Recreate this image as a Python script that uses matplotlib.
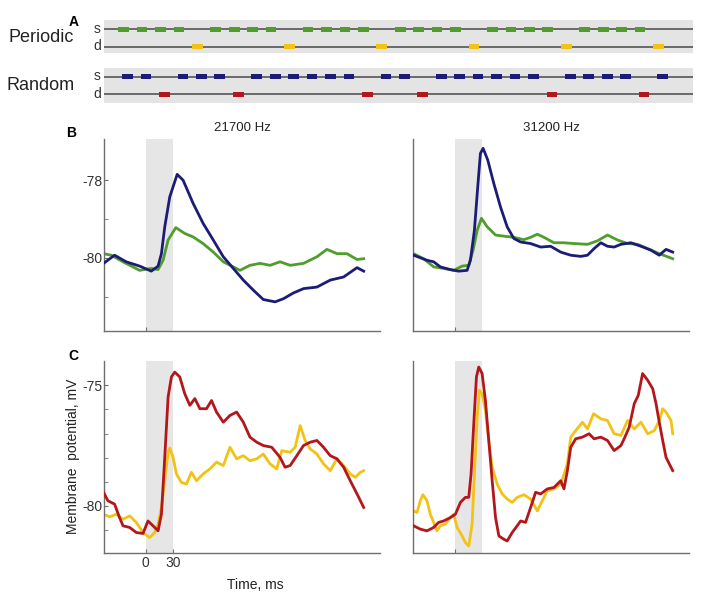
import numpy as np
import matplotlib
matplotlib.use("Agg")
import matplotlib.pyplot as plt

plt.rcParams['font.family'] = ['Liberation Sans', 'DejaVu Sans']

# ---- panel A: stimulus slots (s = standard, d = deviant) ----
periodic_s = [0, 1, 2, 3, 5, 6, 7, 8, 10, 11, 12, 13, 15, 16, 17, 18, 20, 21, 22, 23, 25, 26, 27, 28]
periodic_d = [4, 9, 14, 19, 24, 29]
random_s = [0, 1, 3, 4, 5, 7, 8, 9, 10, 11, 12, 14, 15, 17, 18, 19, 20, 21, 22, 24, 25, 26, 27, 29]
random_d = [2, 6, 13, 16, 23, 28]

# ---- panel B, 21700 Hz ----
t_b1_blue = [-45.5, -33.6, -21, -6.5, 6.1, 13.4, 17, 20.6, 26, 34, 40.4, 51.3, 62, 73, 83.8, 94.6,
             105.4, 116.3, 127, 139.7, 148.7, 159.6, 170.4, 184.9, 199.3, 213.7, 228.2, 235.4]
v_b1_blue = [-80.14, -79.93, -80.10, -80.21, -80.34, -80.21, -79.89, -79.20, -78.43, -77.85, -78.00,
             -78.60, -79.11, -79.54, -79.97, -80.27, -80.57, -80.83, -81.07, -81.13, -81.05, -80.90,
             -80.79, -80.75, -80.57, -80.49, -80.25, -80.34]
t_b1_green = [-45.5, -37.2, -24.5, -6.5, 6.1, 13.4, 18.8, 24.2, 32.5, 42.2, 51.3, 62, 73, 83.8, 94.6,
              101.8, 112.6, 123.5, 134.3, 145.1, 156, 170.4, 184.9, 195.7, 206.5, 217.3, 228.2, 235.4]
v_b1_green = [-79.89, -79.93, -80.10, -80.32, -80.27, -80.30, -80.06, -79.54, -79.22, -79.37, -79.46,
              -79.63, -79.85, -80.10, -80.23, -80.32, -80.19, -80.14, -80.19, -80.10, -80.19, -80.14,
              -79.97, -79.78, -79.89, -79.89, -80.04, -80.02]

# ---- panel B, 31200 Hz ----
t_b2_blue = [-44.4, -29.9, -22.7, -15.5, -4.7, 4.3, 13.4, 17, 21.3, 24.9, 27.8, 30.7, 35.7, 42.2, 49.5,
             56.7, 63.9, 71.2, 82, 92.8, 103.6, 114.5, 125.3, 136.1, 143.4, 150.5, 157.8, 165, 172.2,
             179.5, 190.3, 201.1, 211.9, 220.9, 228.2, 235.4]
v_b2_blue = [-79.93, -80.06, -80.10, -80.23, -80.30, -80.34, -80.32, -80.06, -79.29, -78.17, -77.31,
             -77.18, -77.48, -78.08, -78.69, -79.20, -79.50, -79.59, -79.63, -79.72, -79.70, -79.85,
             -79.93, -79.96, -79.93, -79.76, -79.61, -79.70, -79.72, -79.65, -79.61, -79.70, -79.80,
             -79.93, -79.78, -79.85]
t_b2_green = [-44.4, -33.6, -22.7, -11.9, -1.1, 8, 15.2, 19.9, 24.3, 28.9, 35.1, 44.1, 53.1, 63.9, 74.7,
              82, 89.2, 96.4, 107.2, 118, 128.9, 143.4, 154.2, 165, 175.9, 186.7, 197.5, 208.4, 220.9, 235.4]
v_b2_green = [-79.89, -80.02, -80.23, -80.27, -80.32, -80.21, -80.19, -79.80, -79.29, -78.98, -79.20,
              -79.41, -79.44, -79.47, -79.53, -79.47, -79.39, -79.47, -79.61, -79.61, -79.63, -79.65,
              -79.56, -79.41, -79.54, -79.63, -79.65, -79.76, -79.89, -80.02]

# ---- panel C, 21700 Hz ----
t_c1_red = [-45.5, -40.8, -33.6, -28.2, -24.5, -17.3, -10.1, -2.9, 2.5, 7.9, 13.4, 17, 20.6, 24.2, 27.8,
            31.4, 36.8, 42.2, 47.7, 53.1, 58.5, 65.7, 71.1, 76.5, 83.8, 91, 98.2, 105.4, 112.6, 119.9,
            127, 136.1, 145.1, 150.5, 156, 163.2, 170.4, 177.6, 184.9, 192, 199.3, 206.5, 213.7, 220.9,
            228.2, 235.4]
v_c1_red = [-79.44, -79.79, -79.93, -80.49, -80.83, -80.90, -81.11, -81.15, -80.63, -80.83, -81.04,
            -80.35, -77.99, -75.49, -74.65, -74.45, -74.65, -75.35, -75.83, -75.55, -75.97, -75.97,
            -75.63, -76.11, -76.53, -76.25, -76.11, -76.53, -77.15, -77.36, -77.50, -77.57, -77.99,
            -78.40, -78.33, -77.92, -77.50, -77.36, -77.29, -77.57, -77.92, -78.05, -78.40, -78.96,
            -79.51, -80.07]
t_c1_yellow = [-45.5, -39, -31.8, -24.5, -17.3, -10.1, -2.9, 4.3, 9.7, 13.4, 17, 20.6, 24.2, 26, 29.6,
               33.2, 38.6, 44, 49.4, 54.9, 62, 69.3, 76.5, 83.8, 91, 98.2, 105.4, 112.6, 119.9, 127,
               134.3, 141.5, 146.9, 156, 161.4, 166.8, 172.2, 177.6, 184.9, 192, 199.3, 206.5, 213.7,
               220.9, 226.3, 231.8, 235.4]
v_c1_yellow = [-80.35, -80.46, -80.35, -80.56, -80.42, -80.69, -81.11, -81.32, -81.11, -80.76, -80.07,
               -78.96, -77.78, -77.60, -77.99, -78.68, -79.03, -79.10, -78.61, -78.96, -78.68, -78.47,
               -78.19, -78.33, -77.57, -78.05, -77.92, -78.13, -78.05, -77.85, -78.26, -78.47, -77.71,
               -77.78, -77.57, -76.67, -77.29, -77.64, -77.85, -78.26, -78.54, -78.05, -78.33, -78.68,
               -78.82, -78.61, -78.54]

# ---- panel C, 31200 Hz ----
t_c2_red = [-44.4, -37.1, -29.9, -22.7, -17.3, -11.9, -4.7, 0.8, 6.2, 11.6, 15.2, 17.7, 20.6, 23.5, 26,
            29.6, 33.2, 36.8, 40.5, 44.1, 47.7, 53.1, 56.7, 62.1, 67.5, 71.2, 76.5, 82, 87.4, 92.8, 100,
            107.2, 114.5, 118, 121.7, 125.3, 130.7, 137.9, 145.1, 150.5, 157.8, 165, 172.2, 179.5, 183,
            188.4, 193.9, 198.2, 202.9, 208.4, 213.8, 217.4, 220.9, 224.6, 228.2, 235.4]
v_c2_red = [-80.83, -80.97, -81.04, -80.90, -80.69, -80.63, -80.49, -80.35, -79.86, -79.65, -79.65,
            -78.68, -76.60, -74.65, -74.24, -74.51, -75.63, -77.29, -78.96, -80.49, -81.25, -81.39,
            -81.46, -81.11, -80.83, -80.63, -80.69, -80.07, -79.44, -79.51, -79.30, -79.24, -78.96,
            -79.30, -78.54, -77.57, -77.22, -77.15, -77.01, -77.22, -77.15, -77.29, -77.71, -77.50,
            -77.22, -76.74, -75.76, -75.42, -74.51, -74.79, -75.14, -75.76, -76.53, -77.29, -77.99, -78.54]
t_c2_yellow = [-44.4, -40.7, -37.1, -34.3, -29.9, -26.3, -22.7, -19.1, -15.5, -10.1, -4.7, -1.1, 2.6, 8,
               11.6, 15.2, 18.8, 21.3, 24.3, 26.7, 29.6, 33.2, 36.8, 40.5, 45.9, 51.3, 56.7, 62.1, 67.5,
               74.7, 82, 89.2, 94.6, 100, 107.2, 114.5, 121.7, 125.3, 130.7, 137.9, 143.4, 149.9, 157.8,
               165, 172.2, 179.5, 186.7, 193.9, 201.1, 208.4, 215.5, 220.9, 224.6, 228.2, 233.6, 235.4]
v_c2_yellow = [-80.21, -80.28, -79.79, -79.54, -79.79, -80.35, -80.69, -81.04, -80.83, -80.76, -80.49,
               -80.35, -80.90, -81.25, -81.53, -81.67, -80.76, -78.68, -76.32, -75.21, -75.35, -76.04,
               -77.29, -78.40, -79.10, -79.51, -79.72, -79.86, -79.65, -79.54, -79.72, -80.21, -79.79,
               -79.38, -79.30, -79.10, -78.26, -77.15, -76.88, -76.53, -76.81, -76.18, -76.39, -76.46,
               -77.01, -77.08, -76.46, -76.81, -76.53, -77.01, -76.88, -76.46, -75.97, -76.11, -76.46,
               -77.01]

titles = ['21700 Hz', '31200 Hz']

BLUE = '#1c1c78'
GREEN = '#4f9e2c'
RED = '#b3161b'
YELLOW = '#f2c214'
SHADE = '#e6e6e6'
SPINE = '#6e6e6e'

W, H = 701, 601
fig = plt.figure(figsize=(7.01, 6.01), dpi=100)


def px_axes(x0, y0, x1, y1):
    # axes from pixel box (top-left origin)
    return fig.add_axes([x0 / W, 1 - y1 / H, (x1 - x0) / W, (y1 - y0) / H])


# ---------------- panel A ----------------
axA = px_axes(104, 20, 693, 103)
axA.set_xlim(-1.06, 30.87)
axA.set_ylim(0, 83)
axA.axis('off')
axA.axhspan(50, 83, color='#e4e4e4', lw=0)
axA.axhspan(0, 35, color='#e4e4e4', lw=0)
rows = [(74, periodic_s, GREEN, 0.0), (56.5, periodic_d, YELLOW, 0.0),
        (26.5, random_s, BLUE, 0.22), (9, random_d, RED, 0.22)]
for i, (yy, slots, col, off) in enumerate(rows):
    axA.axhline(yy, color='#555555', lw=1.2, zorder=1)
    axA.bar(np.array(slots) + off, 5, bottom=yy - 2.5, width=0.58, color=col, zorder=2)
    axA.text(-1.44, yy, 's' if i % 2 == 0 else 'd', ha='center', va='center',
             fontsize=10, color='#333333', clip_on=False)

fig.text(41 / W, 1 - 38 / H, 'Periodic', ha='center', va='center', fontsize=13, color='#222222')
fig.text(41 / W, 1 - 86 / H, 'Random', ha='center', va='center', fontsize=13, color='#222222')
fig.text(74 / W, 1 - 22 / H, 'A', ha='center', va='center', fontsize=10, fontweight='bold')
fig.text(71 / W, 1 - 133 / H, 'B', ha='center', va='center', fontsize=10, fontweight='bold')
fig.text(73 / W, 1 - 356 / H, 'C', ha='center', va='center', fontsize=10, fontweight='bold')


def style(ax, ylim, major, minor, show_y, xticks, xlabels):
    ax.set_xlim(-45, 253)
    ax.set_ylim(*ylim)
    ax.axvspan(0, 30, color=SHADE, lw=0, zorder=0)
    for s in ['top', 'right']:
        ax.spines[s].set_visible(False)
    for s in ['left', 'bottom']:
        ax.spines[s].set_color(SPINE)
        ax.spines[s].set_linewidth(1)
    ax.set_xticks(xticks)
    ax.set_xticklabels(xlabels)
    ax.tick_params(axis='x', direction='in', length=3, color=SPINE, pad=2,
                   labelsize=10, labelcolor='#333333')
    if show_y:
        ax.set_yticks(major)
        ax.set_yticklabels([str(m) for m in major])
        ax.set_yticks(minor, minor=True)
        ax.tick_params(axis='y', which='both', direction='in', length=3, color=SPINE,
                       pad=1, labelsize=10, labelcolor='#333333')
    else:
        ax.set_yticks([])


b_ylim = (-81.88, -76.94)
c_ylim = (-81.96, -73.99)

b_data = [(t_b1_blue, v_b1_blue, t_b1_green, v_b1_green),
          (t_b2_blue, v_b2_blue, t_b2_green, v_b2_green)]
c_data = [(t_c1_red, v_c1_red, t_c1_yellow, v_c1_yellow),
          (t_c2_red, v_c2_red, t_c2_yellow, v_c2_yellow)]
lefts = [(104, 380), (413, 689)]

for k, (x0, x1) in enumerate(lefts):
    axB = px_axes(x0, 139, x1, 331)
    tb, vb, tg, vg = b_data[k]
    axB.plot(tg, vg, color=GREEN, lw=2.0, zorder=2)
    axB.plot(tb, vb, color=BLUE, lw=2.0, zorder=3)
    style(axB, b_ylim, [-78, -80], [-79, -81], k == 0, [0], [''])
    axB.set_title(titles[k], fontsize=9.5, pad=6, color='#222222')

    axC = px_axes(x0, 361, x1, 553)
    tr, vr, ty, vy = c_data[k]
    axC.plot(ty, vy, color=YELLOW, lw=2.0, zorder=2)
    axC.plot(tr, vr, color=RED, lw=2.0, zorder=3)
    if k == 0:
        style(axC, c_ylim, [-75, -80], [-76, -77, -78, -79, -81], True, [0, 30], ['0', '30'])
    else:
        style(axC, c_ylim, [], [], False, [0], [''])

fig.text(73 / W, 1 - 456 / H, 'Membrane  potential, mV', rotation=90, ha='center', va='center',
         fontsize=10, color='#222222')
fig.text(255 / W, 1 - 585 / H, 'Time, ms', ha='center', va='center', fontsize=10, color='#222222')

fig.savefig('out.png', dpi=100)
